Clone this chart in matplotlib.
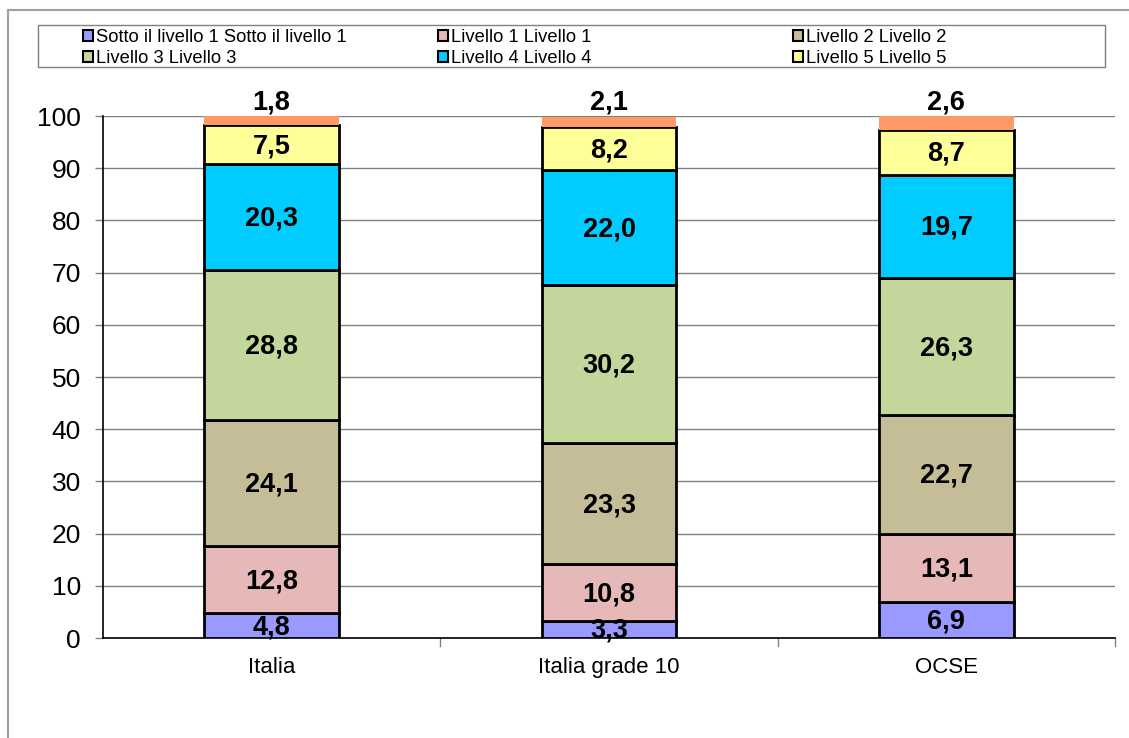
import matplotlib
matplotlib.use("Agg")
import matplotlib.pyplot as plt
from matplotlib.lines import Line2D
from matplotlib.patches import Patch, Rectangle

plt.rcParams['font.family'] = ['Liberation Sans', 'DejaVu Sans']

categories = ["Italia", "Italia grade 10", "OCSE"]
series_names = ["Sotto il livello 1 Sotto il livello 1", "Livello 1 Livello 1",
                "Livello 2 Livello 2", "Livello 3 Livello 3",
                "Livello 4 Livello 4", "Livello 5 Livello 5"]
sotto1 = [4.8, 3.3, 6.9]
liv1 = [12.8, 10.8, 13.1]
liv2 = [24.1, 23.3, 22.7]
liv3 = [28.8, 30.2, 26.3]
liv4 = [20.3, 22.0, 19.7]
liv5 = [7.5, 8.2, 8.7]
liv6 = [1.8, 2.1, 2.6]
yticks = [0, 10, 20, 30, 40, 50, 60, 70, 80, 90, 100]

colors = ["#9999FF", "#E6B9B8", "#C4BD97", "#C3D69B", "#00CCFF", "#FFFF99"]
top_color = "#FF9966"

W, H = 1129, 738
fig = plt.figure(figsize=(W / 100, H / 100), dpi=100)
ax = fig.add_axes([103 / W, 1 - 638 / H, (1115 - 103) / W, (638 - 116) / H])

x = list(range(len(categories)))
bw = 0.4
bottoms = [0.0] * len(categories)
for vals, col in zip([sotto1, liv1, liv2, liv3, liv4, liv5], colors):
    ax.bar(x, vals, bw, bottom=bottoms, color=col, edgecolor="black", linewidth=2, zorder=3)
    for i, v in enumerate(vals):
        ax.text(x[i], bottoms[i] + v / 2 - 0.3, f"{v:.1f}".replace(".", ","),
                ha="center", va="center", fontsize=19.5, fontweight="bold", zorder=5)
    bottoms = [b + v for b, v in zip(bottoms, vals)]
ax.bar(x, liv6, bw, bottom=bottoms, color=top_color, edgecolor="none", zorder=3)
for i, v in enumerate(liv6):
    ax.text(x[i], 102.5, f"{v:.1f}".replace(".", ","), ha="center", va="center",
            fontsize=19.5, fontweight="bold", clip_on=False, zorder=5)

ax.set_xlim(-0.5, 2.5)
ax.set_ylim(0, 100)
ax.set_yticks(yticks)
ax.set_yticklabels([str(t) for t in yticks], fontsize=19)
ax.yaxis.grid(True, color="#808080", linewidth=1, zorder=0)
ax.set_axisbelow(True)
ax.set_xticks(x)
ax.set_xticklabels(categories, fontsize=16)
ax.tick_params(axis="x", length=0, pad=14)
ax.tick_params(axis="y", length=6, width=1, color="#808080", pad=10)
for b in [0.5, 1.5, 2.5]:
    ax.plot([b, b], [0, -1.5], color="#808080", linewidth=1, clip_on=False)
for s in ["top", "right"]:
    ax.spines[s].set_visible(False)
ax.spines["left"].set_linewidth(1.2)
ax.spines["bottom"].set_linewidth(1.2)

# legend frame
fig.add_artist(Rectangle((38 / W, 1 - 67 / H), (1105 - 38) / W, (67 - 25) / H,
                         transform=fig.transFigure, facecolor="white",
                         edgecolor="#808080", linewidth=1))
handles = [Patch(facecolor=c, edgecolor="black", linewidth=1.5) for c in colors]
col_x = [83, 438, 793]
for k in range(3):
    idx = [k, k + 3]
    fig.legend([handles[i] for i in idx], [series_names[i] for i in idx],
               ncol=1, loc="upper left", bbox_to_anchor=(col_x[k] / W, 1 - 29 / H),
               fontsize=13.2, frameon=False,
               handlelength=0.55, handleheight=0.55, handletextpad=0.15,
               borderpad=0.0, labelspacing=0.2, borderaxespad=0)

fig.add_artist(Line2D([8 / W, 8 / W], [0, 1 - 10 / H], color="#A0A0A0", linewidth=1.5))
fig.add_artist(Line2D([8 / W, 1], [1 - 10 / H, 1 - 10 / H], color="#A0A0A0", linewidth=1.5))

fig.savefig("out.png", dpi=100)
